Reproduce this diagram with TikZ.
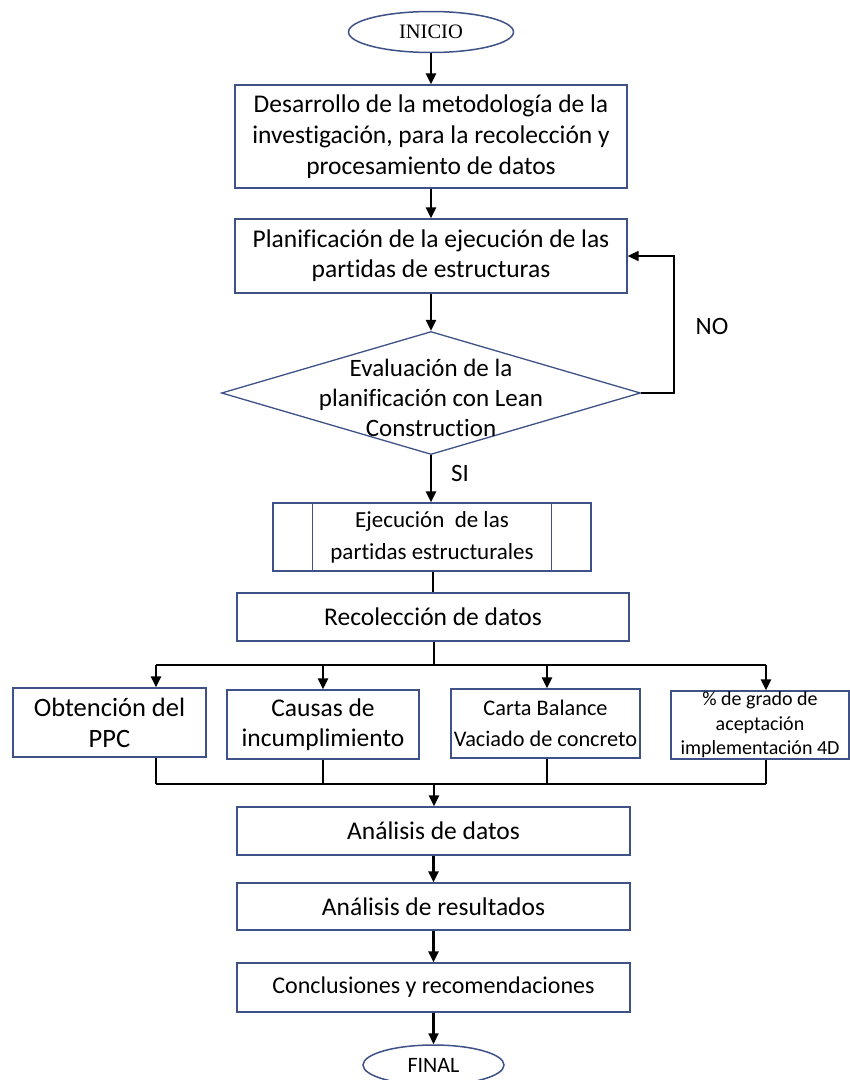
\documentclass[tikz,border=0pt]{standalone}
\usepackage{fontspec}
\setmainfont[Ligatures=NoCommon]{Carlito}
\newfontfamily\serifrm{Liberation Serif}
\usetikzlibrary{shapes.geometric,arrows.meta}
\definecolor{bord}{RGB}{62,82,135}
\begin{document}
\begin{tikzpicture}[x=1pt,y=-1pt,
  box/.style={draw=bord,line width=1.3pt,fill=white,inner sep=0pt,align=center,
    font=\fontsize{25.5}{31}\selectfont},
  term/.style={draw=bord,line width=1.5pt,ellipse,inner sep=0pt,fill=white},
  arr/.style={line width=2.2pt,-{Triangle[length=11pt,width=10pt]}},
  ln/.style={line width=2.2pt},
  thinarr/.style={line width=1.6pt,-{Triangle[length=11pt,width=10pt]}},
  lbl/.style={font=\fontsize{25}{30}\selectfont,inner sep=0pt}
]
\useasboundingbox (0,0) rectangle (850,1080);
\fill[white] (0,0) rectangle (850,1080);

% nodes
\node[term,minimum width=165pt,minimum height=41pt,font=\serifrm\fontsize{20.5}{24}\selectfont] (inicio) at (431,32) {INICIO};
\node[box,minimum width=392pt,minimum height=103pt] (b1) at (431,136.5)
  {Desarrollo de la metodología de la\\investigación, para la recolección y\\procesamiento de datos};
\node[box,minimum width=392pt,minimum height=74pt,font=\fontsize{25.5}{30}\selectfont] (b2) at (431,256)
  {Planificación de la ejecución de las\\partidas de estructuras};
\node[draw=bord,line width=1.3pt,diamond,minimum width=419pt,minimum height=123pt,inner sep=0pt] (dia) at (431,393) {};
\node[align=center,inner sep=0pt,font=\fontsize{25}{30}\selectfont] (diat) at (431,398)
  {Evaluación de la\\planificación con Lean\\Construction};
\node[box,minimum width=318pt,minimum height=68pt,font=\fontsize{23}{32}\selectfont] (pre) at (432,537)
  {Ejecución\ \ de las\\partidas estructurales};
\draw[draw=bord,line width=1.3pt] ([xshift=40pt]pre.north west) -- ([xshift=40pt]pre.south west);
\draw[draw=bord,line width=1.3pt] ([xshift=-40pt]pre.north east) -- ([xshift=-40pt]pre.south east);
\node[box,minimum width=392pt,minimum height=48pt] (recol) at (433,617) {Recolección de datos};

\node[box,minimum width=193pt,minimum height=69pt,font=\fontsize{26.5}{31}\selectfont] (c1) at (109.5,722.5) {Obtención del\\PPC};
\node[box,minimum width=192pt,minimum height=69pt,font=\fontsize{25.5}{30}\selectfont] (c2) at (323,724.5) {Causas de\\incumplimiento};
\node[box,minimum width=189pt,minimum height=69pt,font=\fontsize{22.3}{31}\selectfont] (c3) at (545.5,723.5) {Carta Balance\\Vaciado de concreto};
\node[box,minimum width=178pt,minimum height=68pt,font=\fontsize{20}{24.5}\selectfont] (c4) at (760,725) {\% de grado de\\aceptación\\implementación 4D};

\node[box,minimum width=393pt,minimum height=48pt] (datos) at (433.5,831) {Análisis de datos};
\node[box,minimum width=393pt,minimum height=47pt] (res) at (433.5,906.5) {Análisis de resultados};
\node[box,minimum width=393pt,minimum height=49pt,font=\fontsize{24}{30}\selectfont] (conc) at (433.5,987.5) {Conclusiones y recomendaciones};
\node[term,minimum width=141pt,minimum height=40pt,font=\fontsize{22}{26}\selectfont] (final) at (433.5,1065) {FINAL};

\node[lbl] (no) at (712,326) {NO};
\node[lbl] (si) at (460,473) {SI};

% connectors
\draw[arr] (inicio) -- (b1);
\draw[arr] (b1) -- (b2);
\draw[arr] (b2) -- (dia.north);
\draw[arr] (dia.south) -- (pre.north -| dia.south);
\coordinate (lp) at (674,393);
\draw[thinarr] (dia.east) -- (lp) |- (b2.east);
\draw[ln] (pre.south -| recol.south) -- (recol.north);

\coordinate (s0) at (434,665);
\coordinate (h1) at (156,665);
\coordinate (h2) at (323,665);
\coordinate (h3) at (547,665);
\coordinate (h4) at (766,665);
\draw[ln] (recol.south -| s0) -- (s0);
\draw[ln] (h1) -- (h4);
\draw[arr] (h1) -- (h1 |- c1.north);
\draw[arr] (h2) -- (h2 |- c2.north);
\draw[arr] (h3) -- (h3 |- c3.north);
\draw[arr] (h4) -- (h4 |- c4.north);

\coordinate (m0) at (434,784);
\coordinate (g1) at (156,784);
\coordinate (g2) at (323,784);
\coordinate (g3) at (547,784);
\coordinate (g4) at (766,784);
\draw[ln] (g1 |- c1.south) -- (g1);
\draw[ln] (g2 |- c2.south) -- (g2);
\draw[ln] (g3 |- c3.south) -- (g3);
\draw[ln] (g4 |- c4.south) -- (g4);
\draw[ln] (g1) -- (g4);
\draw[arr] (m0) -- (m0 |- datos.north);

\draw[arr] (datos) -- (res);
\draw[arr] (res) -- (conc);
\draw[arr] (conc) -- (final);
\end{tikzpicture}
\end{document}
